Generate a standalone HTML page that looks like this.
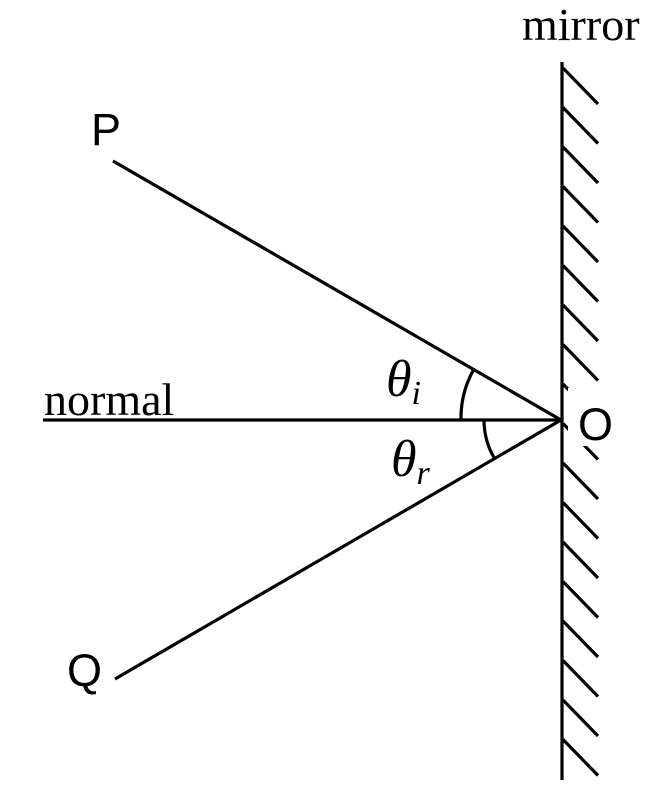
<!DOCTYPE html>
<html><head><meta charset="utf-8"><style>body{margin:0;background:#fff}svg{display:block}</style></head>
<body>
<svg width="667" height="800" viewBox="0 0 667 800" xmlns="http://www.w3.org/2000/svg">
<rect width="667" height="800" fill="#fff"/>
<g stroke="#000" stroke-width="3.2" fill="none" stroke-linecap="butt">
<line x1="562" y1="62" x2="562" y2="780"/>
<path d="M563,68 l35,36 M563,107.5 l35,36 M563,147 l35,36 M563,186.5 l35,36 M563,226 l35,36 M563,265.5 l35,36 M563,305 l35,36 M563,344.5 l35,36 M563,384 l35,36 M563,423.5 l35,36 M563,463 l35,36 M563,502.5 l35,36 M563,542 l35,36 M563,581.5 l35,36 M563,621 l35,36 M563,660.5 l35,36 M563,700 l35,36 M563,739.5 l35,36"/>
<line x1="43" y1="420" x2="561" y2="420"/>
<line x1="113" y1="161" x2="561" y2="420"/>
<line x1="115" y1="679" x2="561" y2="420"/>
<path d="M473.4,370 A100,100 0 0 0 461,420"/>
<path d="M484,420 A76,76 0 0 0 494.2,458"/>
</g>
<rect x="568" y="388" width="50" height="58" fill="#fff"/>
<g font-family="Liberation Sans, sans-serif" font-size="45" fill="#000">
<text x="91" y="145">P</text>
<text x="67" y="686">Q</text>
<text x="578" y="440">O</text>
</g>
<g font-family="Liberation Serif, serif" font-size="46" fill="#000">
<text x="44" y="415">normal</text>
<text x="522" y="40">mirror</text>
<text x="386" y="396" font-style="italic" font-size="52">θ<tspan font-size="34" dy="8">i</tspan></text>
<text x="391" y="476" font-style="italic" font-size="52">θ<tspan font-size="34" dy="8">r</tspan></text>
</g>
</svg>
</body></html>
